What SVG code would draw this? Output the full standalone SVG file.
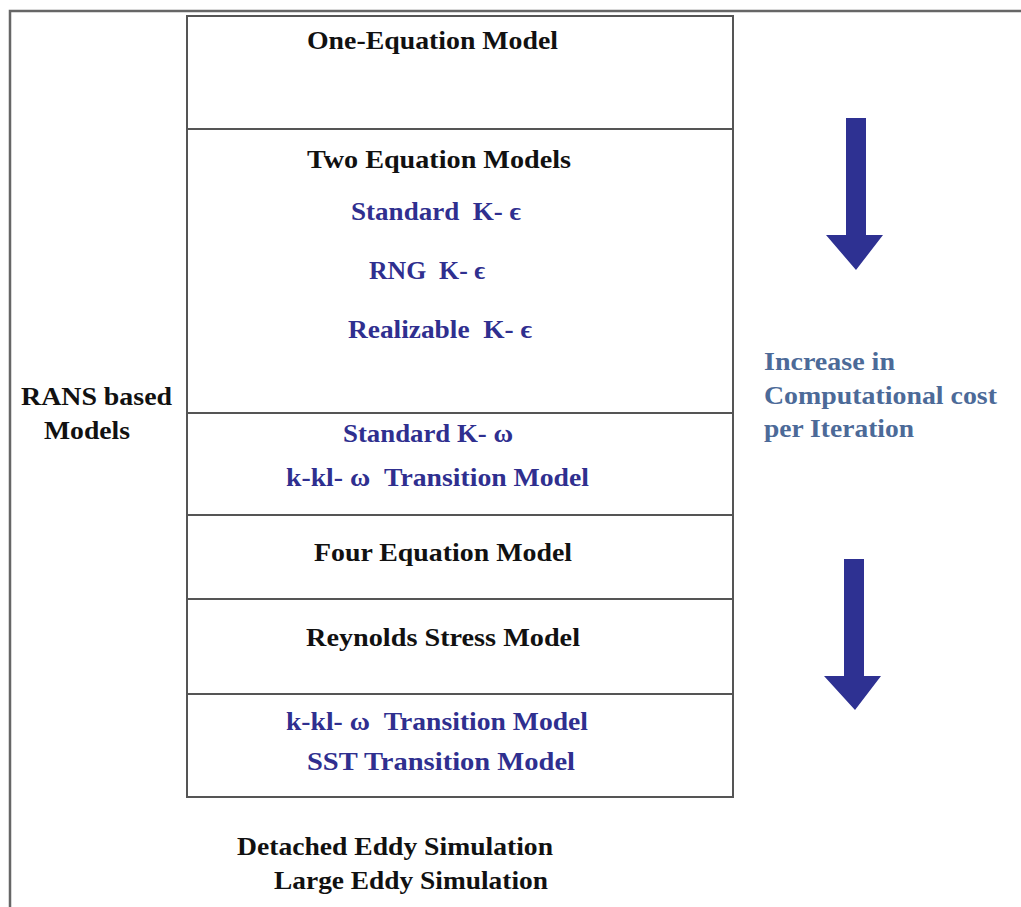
<svg xmlns="http://www.w3.org/2000/svg" width="1021" height="907" viewBox="0 0 1021 907">
  <style>
    .t { font-family: "Liberation Serif", "Times New Roman", serif; font-weight: bold; font-size: 25px; white-space: pre; }
    .dark { fill: #111111; }
    .blue { fill: #2f2f8f; }
    .slate { fill: #4c6a98; }
    .box { fill: none; stroke: #555555; stroke-width: 2; }
    .div { stroke: #555555; stroke-width: 2; }
    .arrow { fill: #2e3192; }
  </style>

  <rect width="1021" height="907" fill="#ffffff"/>

  <!-- outer frame (continues past the right and bottom edges) -->
  <g id="frame">
    <path d="M1021 11 H10 V907" fill="none" stroke="#666666" stroke-width="2.5"/>
  </g>

  <!-- stacked model column -->
  <g id="model-stack">
    <rect class="box" x="187" y="16" width="546" height="781"/>
    <line class="div" x1="187" y1="129" x2="733" y2="129"/>
    <line class="div" x1="187" y1="413" x2="733" y2="413"/>
    <line class="div" x1="187" y1="515" x2="733" y2="515"/>
    <line class="div" x1="187" y1="599" x2="733" y2="599"/>
    <line class="div" x1="187" y1="694" x2="733" y2="694"/>
  </g>

  <g id="one-equation">
    <text class="t dark" x="307" y="49" textLength="251" lengthAdjust="spacingAndGlyphs">One-Equation Model</text>
  </g>

  <g id="two-equation">
    <text class="t dark" x="307" y="168" textLength="264" lengthAdjust="spacingAndGlyphs">Two Equation Models</text>
    <text class="t blue" x="351" y="220" textLength="170" lengthAdjust="spacingAndGlyphs" xml:space="preserve">Standard  K- ϵ</text>
    <text class="t blue" x="369" y="279" textLength="116" lengthAdjust="spacingAndGlyphs" xml:space="preserve">RNG  K- ϵ</text>
    <text class="t blue" x="348" y="338" textLength="184" lengthAdjust="spacingAndGlyphs" xml:space="preserve">Realizable  K- ϵ</text>
  </g>

  <g id="k-omega">
    <text class="t blue" x="343" y="442" textLength="170" lengthAdjust="spacingAndGlyphs">Standard K- ω</text>
    <text class="t blue" x="286" y="486" textLength="303" lengthAdjust="spacingAndGlyphs" xml:space="preserve">k-kl- ω  Transition Model</text>
  </g>

  <g id="four-equation">
    <text class="t dark" x="314" y="561" textLength="258" lengthAdjust="spacingAndGlyphs">Four Equation Model</text>
  </g>

  <g id="reynolds-stress">
    <text class="t dark" x="306" y="646" textLength="274" lengthAdjust="spacingAndGlyphs">Reynolds Stress Model</text>
  </g>

  <g id="transition">
    <text class="t blue" x="286" y="730" textLength="302" lengthAdjust="spacingAndGlyphs" xml:space="preserve">k-kl- ω  Transition Model</text>
    <text class="t blue" x="307" y="770" textLength="268" lengthAdjust="spacingAndGlyphs">SST Transition Model</text>
  </g>

  <g id="rans-label">
    <text class="t dark" x="21" y="405" textLength="151" lengthAdjust="spacingAndGlyphs">RANS based</text>
    <text class="t dark" x="44" y="439" textLength="86" lengthAdjust="spacingAndGlyphs">Models</text>
  </g>

  <g id="scale-resolving">
    <text class="t dark" x="237" y="855" textLength="316" lengthAdjust="spacingAndGlyphs">Detached Eddy Simulation</text>
    <text class="t dark" x="274" y="889" textLength="274" lengthAdjust="spacingAndGlyphs">Large Eddy Simulation</text>
  </g>

  <g id="cost-label">
    <text class="t slate" x="764" y="370" textLength="131" lengthAdjust="spacingAndGlyphs">Increase in</text>
    <text class="t slate" x="764" y="404" textLength="233" lengthAdjust="spacingAndGlyphs">Computational cost</text>
    <text class="t slate" x="764" y="437" textLength="150" lengthAdjust="spacingAndGlyphs">per Iteration</text>
  </g>

  <!-- block arrows showing increasing cost -->
  <g id="connectors">
    <path class="arrow" d="M846 118 H866 V235 H883 L856 270 L826 235 H846 Z"/>
    <path class="arrow" d="M844 559 H864 V676 H881 L855 710 L824 676 H844 Z"/>
  </g>
</svg>
